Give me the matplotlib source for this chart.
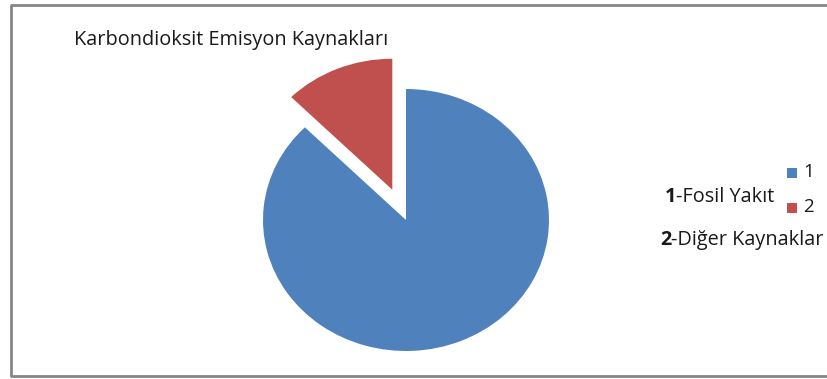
import matplotlib
matplotlib.use("Agg")
import matplotlib.pyplot as plt
from matplotlib.patches import Rectangle

# Data
categories = ["1", "2"]
values = [87.5, 12.5]
colors = ["#4F81BD", "#C0504D"]
explode = [0.0, 0.25]
title = "Karbondioksit Emisyon Kaynakları"
notes = [("1", "-Fosil Yakıt"), ("2", "-Diğer Kaynaklar")]

W, H = 828, 379
fig = plt.figure(figsize=(W / 100, H / 100), dpi=100)
fig.patch.set_facecolor("white")
plt.rcParams["font.family"] = ["Open Sans", "DejaVu Sans"]

# Chart frame (open on the right edge)
frame_kw = dict(color="#868686", lw=2.0, solid_capstyle="butt")
fig.add_artist(plt.Line2D([11 / W, 11 / W], [1 - 376 / H, 1 - 5 / H], transform=fig.transFigure, **frame_kw))
fig.add_artist(plt.Line2D([10 / W, 1.0], [1 - 5 / H, 1 - 5 / H], transform=fig.transFigure, **frame_kw))
fig.add_artist(plt.Line2D([10 / W, 1.0], [1 - 376 / H, 1 - 376 / H], transform=fig.transFigure, **frame_kw))

# Pie axes: slightly wider ellipse, centre at (406, 220) px
cx, cy = 406, 220
rx, ry = 143, 131
xl, xr = -1.3, 1.3
yb, yt = -1.2, 1.5
ax_w = (xr - xl) * rx
ax_h = (yt - yb) * ry
left = cx + xl * rx
bottom = (H - cy) + yb * ry
ax = fig.add_axes([left / W, bottom / H, ax_w / W, ax_h / H])
wedges, _ = ax.pie(values, colors=colors, explode=explode, startangle=90,
                   counterclock=False, radius=1.0,
                   wedgeprops=dict(linewidth=0))
for w in wedges:
    w.set_clip_on(False)
ax.set_xlim(xl, xr)
ax.set_ylim(yb, yt)
ax.set_aspect("auto")
ax.axis("off")

# Title
fig.text(74 / W, 1 - 40 / H, title, fontsize=14.3, color="#1a1a1a",
         ha="left", va="center")

# Legend
for i, (lab, col) in enumerate(zip(categories, colors)):
    ytop = [168, 203][i]
    fig.add_artist(Rectangle((787 / W, 1 - (ytop + 10) / H), 10 / W, 10 / H,
                             transform=fig.transFigure, color=col, lw=0))
    fig.text(803 / W, 1 - (ytop + 4) / H, lab, fontsize=13.5, color="#1a1a1a",
             ha="left", va="center")

# Notes beside the legend
note_pos = [(665, 197), (660, 240)]
for (num, rest), (x, y) in zip(notes, note_pos):
    t = fig.text(x / W, 1 - y / H, num, fontsize=14.3, fontweight="bold",
                 color="#1a1a1a", ha="left", va="center")
    fig.canvas.draw()
    bb = t.get_window_extent()
    fig.text(bb.x1 / W, 1 - y / H, rest, fontsize=14.3, color="#1a1a1a",
             ha="left", va="center")

fig.savefig("out.png", dpi=100, facecolor="white")
